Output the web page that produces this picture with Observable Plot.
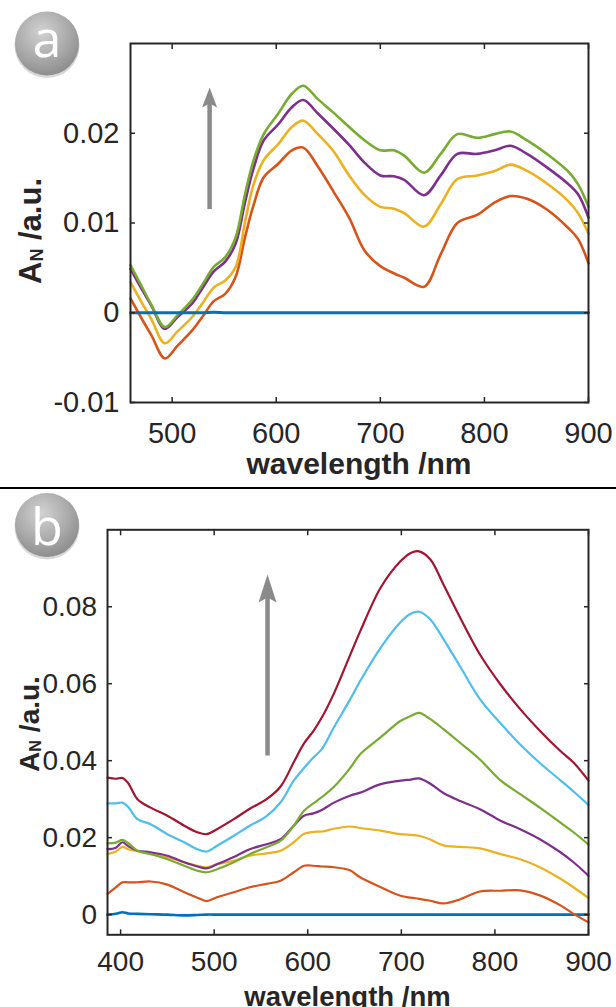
<!DOCTYPE html>
<html><head><meta charset="utf-8">
<script src="https://cdn.jsdelivr.net/npm/d3@7"></script>
<script src="https://cdn.jsdelivr.net/npm/@observablehq/plot@0.6"></script>
<style>
html,body{margin:0;padding:0;background:#fff;width:616px;height:1007px;overflow:hidden;}
#wrap{position:relative;width:616px;height:1007px;}
#pa,#pb{position:absolute;left:0;}
#pa{top:0px;} #pb{top:488px;}
#sep{position:absolute;left:0;top:487px;width:616px;height:1.5px;background:#000;}
svg{overflow:visible;}
</style></head>
<body><div id="wrap"><div id="pa"></div><div id="sep"></div><div id="pb"></div></div>
<script>
// ---------- Panel a data ----------
const wlA = [460,470,480,493,505,519,530,540,551,561,570,578,588,602,615,626,640,655,670,685,700,713,723,742,758,774,793,810,825,841,860,880,890,900];
const aBlue   = [0.0000,0.0000,0.0000,0.0000,0.0000,0.0000,0.0000,0.00005,0.0000,0.0000,0.0000,0.0000,0.0000,0.0000,0.0000,0.0000,0.0000,0.0000,0.0000,0.0000,0.0000,0.0000,0.0000,0.0000,0.0000,0.0000,0.0000,0.0000,0.0000,0.0000,0.0000,0.0000,0.0000,0.0000];
const aOrange = [0.0016,-0.0005,-0.0025,-0.0051,-0.0037,-0.0020,-0.0003,0.0013,0.0021,0.0040,0.0084,0.0119,0.0151,0.0166,0.0181,0.0184,0.0163,0.0135,0.0106,0.0069,0.0052,0.0044,0.0039,0.0029,0.0065,0.0100,0.0109,0.0123,0.0130,0.0127,0.0115,0.0095,0.0082,0.0055];
const aYellow = [0.0034,0.0013,-0.0007,-0.0034,-0.0021,-0.0005,0.0012,0.0028,0.0036,0.0051,0.0101,0.0142,0.0170,0.0188,0.0207,0.0214,0.0199,0.0180,0.0153,0.0131,0.0118,0.0116,0.0111,0.0096,0.0121,0.0149,0.0153,0.0158,0.0165,0.0158,0.0144,0.0125,0.0111,0.0088];
const aPurple = [0.0049,0.0028,0.0008,-0.0018,-0.0005,0.0010,0.0029,0.0046,0.0057,0.0077,0.0123,0.0160,0.0192,0.0210,0.0229,0.0237,0.0222,0.0205,0.0187,0.0167,0.0153,0.0152,0.0148,0.0131,0.0153,0.0177,0.0177,0.0181,0.0186,0.0177,0.0162,0.0144,0.0132,0.0106];
const aGreen  = [0.0053,0.0031,0.0009,-0.0016,-0.0003,0.0014,0.0033,0.0051,0.0062,0.0084,0.0132,0.0169,0.0199,0.0222,0.0244,0.0253,0.0238,0.0223,0.0207,0.0192,0.0181,0.0181,0.0175,0.0156,0.0177,0.0199,0.0195,0.0199,0.0202,0.0192,0.0177,0.0158,0.0143,0.0118];
const xTicksA = [500,600,700,800,900];
const yTicksA = [-0.01,0,0.01,0.02];
const arrowA = [{wl: 536, from: 0.0115, to: 0.0251}];

// ---------- Panel b data ----------
const wlB = [386,395,402,408,418,432,450,468,482,492,503,521,538,556,571,585,596,606,615,628,645,656,678,699,710,719,731,745,763,784,806,827,848,870,884,900];
const bBlue   = [0.0000,0.0002,0.0006,0.0003,0.0002,0.0001,0.0000,-0.0002,-0.0001,0.0000,0.0000,0.0000,0.0000,0.0000,0.0000,0.0000,0.0000,0.0000,0.0000,0.0000,0.0000,0.0000,0.0000,0.0000,0.0000,0.0000,0.0000,0.0000,0.0000,0.0000,0.0000,0.0000,0.0000,0.0000,0.0000,0.0000];
const bOrange = [0.0054,0.0071,0.0084,0.0084,0.0084,0.0086,0.0078,0.0058,0.0044,0.0035,0.0045,0.0058,0.0071,0.0080,0.0088,0.0110,0.0127,0.0127,0.0125,0.0123,0.0115,0.0097,0.0071,0.0049,0.0044,0.0041,0.0036,0.0029,0.0040,0.0060,0.0062,0.0063,0.0050,0.0024,0.0002,-0.0020];
const bYellow = [0.0157,0.0164,0.0176,0.0170,0.0165,0.0159,0.0149,0.0136,0.0127,0.0123,0.0131,0.0140,0.0153,0.0159,0.0166,0.0188,0.0210,0.0215,0.0216,0.0223,0.0229,0.0225,0.0218,0.0209,0.0207,0.0205,0.0195,0.0180,0.0176,0.0172,0.0157,0.0144,0.0123,0.0093,0.0071,0.0043];
const bPurple = [0.0170,0.0174,0.0188,0.0178,0.0166,0.0162,0.0153,0.0136,0.0125,0.0120,0.0131,0.0150,0.0170,0.0183,0.0196,0.0231,0.0257,0.0263,0.0272,0.0291,0.0309,0.0317,0.0339,0.0348,0.0351,0.0354,0.0340,0.0316,0.0295,0.0274,0.0244,0.0222,0.0196,0.0162,0.0136,0.0101];
const bGreen  = [0.0185,0.0187,0.0194,0.0186,0.0166,0.0157,0.0144,0.0127,0.0114,0.0110,0.0118,0.0136,0.0157,0.0175,0.0192,0.0231,0.0270,0.0289,0.0305,0.0332,0.0380,0.0417,0.0461,0.0503,0.0516,0.0524,0.0508,0.0482,0.0446,0.0403,0.0349,0.0313,0.0278,0.0239,0.0214,0.0182];
const bLight  = [0.0289,0.0289,0.0291,0.0280,0.0248,0.0235,0.0209,0.0188,0.0170,0.0164,0.0179,0.0205,0.0231,0.0256,0.0292,0.0348,0.0381,0.0408,0.0430,0.0487,0.0558,0.0607,0.0694,0.0760,0.0782,0.0787,0.0767,0.0716,0.0644,0.0560,0.0497,0.0442,0.0394,0.0349,0.0320,0.0285];
const bRed    = [0.0356,0.0353,0.0355,0.0342,0.0300,0.0278,0.0257,0.0231,0.0214,0.0209,0.0222,0.0248,0.0275,0.0300,0.0333,0.0396,0.0445,0.0477,0.0512,0.0575,0.0673,0.0736,0.0850,0.0918,0.0940,0.0944,0.0923,0.0858,0.0771,0.0676,0.0598,0.0534,0.0478,0.0425,0.0395,0.0348];
const xTicksB = [400,500,600,700,800,900];
const yTicksB = [0,0.02,0.04,0.06,0.08];
const arrowB = [{wl: 557, from: 0.0412, to: 0.0884}];

// ---------- styles ----------
const C = {blue:"#0072BD", orange:"#D95319", yellow:"#EDB120", purple:"#7E2F8E", green:"#77AC30", light:"#4DBEEE", red:"#A2142F"};
const INK = "#262626";
const ARROW = "#8a8a8a";
const FONT = "'Liberation Sans', Arial, Helvetica, sans-serif";

const rows = (wl, vals) => wl.map((w, i) => ({wl: w, v: vals[i]}));
const lineMark = (wl, vals, color, sw) => Plot.line(rows(wl, vals), {x: "wl", y: "v", stroke: color, strokeWidth: sw, curve: "catmull-rom"});

function axes(xt, yt, fs, padX, padY) {
  const tk = {tickSize: -5, tickFormat: () => "", strokeWidth: 1.5, label: null};
  return [
    Plot.axisX(xt, {...tk, anchor: "bottom"}),
    Plot.axisX(xt, {...tk, anchor: "top"}),
    Plot.axisY(yt, {...tk, anchor: "left"}),
    Plot.axisY(yt, {...tk, anchor: "right"}),
    Plot.axisX(xt, {anchor: "bottom", tickSize: 0, tickPadding: padX, fontSize: fs, label: null, tickFormat: d => String(d)}),
    Plot.axisY(yt, {anchor: "left", tickSize: 0, tickPadding: padY, fontSize: fs, label: null, tickFormat: d => String(d)})
  ];
}
function head(w, L, n) {
  return {draw(ctx) { ctx.moveTo(0, 0); ctx.lineTo(w / 2, L); ctx.lineTo(0, n); ctx.lineTo(-w / 2, L); ctx.closePath(); }};
}
function arrowMarks(data, w, L, n) {
  return [
    Plot.ruleX(data, {x: "wl", y1: "to", y2: "from", stroke: ARROW, strokeWidth: 4.5, insetTop: n - 2}),
    Plot.dot(data, {x: "wl", y: "to", symbol: head(w, L, n), fill: ARROW, stroke: "none"})
  ];
}
function badge(svg, id, cx, cy, letter, base) {
  const s = d3.select(svg);
  const g = s.append("defs").append("radialGradient").attr("id", id).attr("cx", "42%").attr("cy", "32%").attr("r", "70%");
  g.append("stop").attr("offset", "0%").attr("stop-color", "#d2d2d2");
  g.append("stop").attr("offset", "65%").attr("stop-color", "#a6a6a6");
  g.append("stop").attr("offset", "100%").attr("stop-color", "#8c8c8c");
  s.append("circle").attr("cx", cx).attr("cy", cy + 2).attr("r", 32.5).attr("fill", "#d8d8d8");
  s.append("circle").attr("cx", cx).attr("cy", cy).attr("r", 32).attr("fill", `url(#${id})`);
  s.append("text").attr("x", cx).attr("y", base).attr("text-anchor", "middle")
    .attr("font-family", "'Open Sans', 'Noto Sans', sans-serif").attr("font-size", 52).attr("fill", "#fff").text(letter);
}
function yLabel(svg, x, y, size) {
  const t = d3.select(svg).append("text").attr("transform", `translate(${x},${y}) rotate(-90)`)
    .attr("text-anchor", "middle").attr("font-weight", "bold").attr("font-size", size)
    .attr("font-family", FONT).attr("fill", INK);
  t.append("tspan").text("A");
  t.append("tspan").attr("font-size", size * 0.58).attr("dy", 2).text("N");
  t.append("tspan").attr("dy", -2).text(" /a.u.");
}
function xTitle(svg, x, y, size) {
  d3.select(svg).append("text").attr("x", x).attr("y", y).attr("text-anchor", "middle")
    .attr("font-weight", "bold").attr("font-size", size).attr("font-family", FONT).attr("fill", INK).text("wavelength /nm");
}

// ---------- Panel a ----------
const svgA = Plot.plot({
  width: 616, height: 487,
  marginLeft: 130, marginRight: 28, marginTop: 43, marginBottom: 85,
  style: {fontFamily: FONT, color: INK, background: "transparent"},
  x: {domain: [460, 900]},
  y: {domain: [-0.01, 0.03]},
  marks: [
    lineMark(wlA, aOrange, C.orange, 2.6),
    lineMark(wlA, aYellow, C.yellow, 2.6),
    lineMark(wlA, aPurple, C.purple, 2.6),
    lineMark(wlA, aGreen, C.green, 2.6),
    lineMark(wlA, aBlue, C.blue, 3),
    ...arrowMarks(arrowA, 15, 20, 16),
    Plot.frame({stroke: INK, strokeWidth: 2}),
    ...axes(xTicksA, yTicksA, 29, 19.5, 11)
  ]
});
document.getElementById("pa").append(svgA);
badge(svgA, "gA", 47, 43.5, "a", 57);
yLabel(svgA, 41, 231, 31);
xTitle(svgA, 359, 474, 30);

// ---------- Panel b ----------
const svgB = Plot.plot({
  width: 616, height: 519,
  marginLeft: 107, marginRight: 28, marginTop: 41.3, marginBottom: 72.7,
  style: {fontFamily: FONT, color: INK, background: "transparent"},
  x: {domain: [386, 900]},
  y: {domain: [-0.00525, 0.1]},
  marks: [
    lineMark(wlB, bBlue, C.blue, 2.6),
    lineMark(wlB, bOrange, C.orange, 2.2),
    lineMark(wlB, bYellow, C.yellow, 2.2),
    lineMark(wlB, bPurple, C.purple, 2.2),
    lineMark(wlB, bGreen, C.green, 2.2),
    lineMark(wlB, bLight, C.light, 2.2),
    lineMark(wlB, bRed, C.red, 2.2),
    ...arrowMarks(arrowB, 18, 28, 23),
    Plot.frame({stroke: INK, strokeWidth: 2}),
    ...axes(xTicksB, yTicksB, 28, 16, 10.5)
  ]
});
document.getElementById("pb").append(svgB);
badge(svgB, "gB", 47, 37, "b", 57);
yLabel(svgB, 39, 236, 28);
xTitle(svgB, 347.5, 518, 27.5);
</script>
</body></html>
